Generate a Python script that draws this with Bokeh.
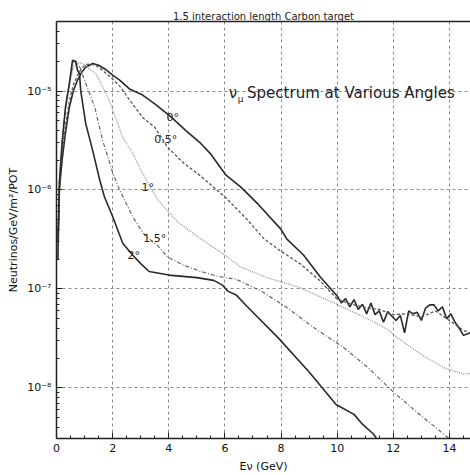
from bokeh.plotting import figure
from bokeh.models import Label, FixedTicker, CustomJSTickFormatter, LinearAxis, Range1d, Title
from bokeh.embed import file_html
from bokeh.resources import INLINE

# ---------------- data ----------------
angle_names = ["0°", "0.5°", "1°", "1.5°", "2°"]

e_0deg = [0.05, 0.10, 0.20, 0.32, 0.46, 0.60, 0.75, 0.90, 1.04, 1.29, 1.50, 1.75, 2.00, 2.25,
          2.60, 3.07, 3.50, 4.07, 4.60, 5.14, 5.50, 6.04, 6.57, 7.20, 8.00, 8.20, 8.80, 9.40,
          10.00, 10.15, 10.30, 10.45, 10.60, 10.75, 10.90, 11.05, 11.20, 11.35, 11.50, 11.65,
          11.80, 11.95, 12.10, 12.25, 12.40, 12.55, 12.70, 12.85, 13.00, 13.15, 13.30, 13.45,
          13.60, 13.75, 13.90, 14.05, 14.20, 14.35, 14.50, 14.75]
flux_0deg = [2e-7, 1.0e-6, 2.0e-6, 3.8e-6, 6.9e-6, 1.0e-5, 1.29e-5, 1.55e-5, 1.74e-5, 1.9e-5,
             1.82e-5, 1.65e-5, 1.45e-5, 1.29e-5, 1.05e-5, 9.1e-6, 7.4e-6, 5.5e-6, 4.0e-6,
             2.95e-6, 2.3e-6, 1.41e-6, 1.07e-6, 7.1e-7, 4.0e-7, 3.2e-7, 2.2e-7, 1.32e-7,
             8.5e-8, 7.2e-8, 8.0e-8, 6.6e-8, 7.8e-8, 6.2e-8, 7.0e-8, 5.6e-8, 7.2e-8, 5.5e-8,
             6.0e-8, 4.6e-8, 5.9e-8, 5.3e-8, 4.8e-8, 5.4e-8, 3.6e-8, 6.0e-8, 5.6e-8, 5.8e-8,
             4.8e-8, 6.4e-8, 6.9e-8, 6.9e-8, 6.0e-8, 6.6e-8, 5.0e-8, 5.6e-8, 4.6e-8, 4.0e-8,
             3.4e-8, 3.6e-8]

e_05deg = [0.05, 0.10, 0.20, 0.32, 0.46, 0.60, 0.75, 0.90, 1.04, 1.20, 1.45, 1.64, 2.00, 2.25,
           2.71, 3.07, 3.50, 3.96, 4.50, 5.14, 6.04, 6.80, 7.40, 8.00, 8.70, 9.40, 10.00,
           10.50, 11.00, 11.50, 12.00, 12.50, 13.00, 13.50, 14.00, 14.50, 14.75]
flux_05deg = [2e-7, 1.2e-6, 2.4e-6, 4.5e-6, 8.0e-6, 1.15e-5, 1.45e-5, 1.7e-5, 1.85e-5, 1.88e-5,
              1.78e-5, 1.62e-5, 1.32e-5, 1.12e-5, 7.4e-6, 5.4e-6, 4.3e-6, 2.7e-6, 1.9e-6,
              1.38e-6, 8.3e-7, 5.0e-7, 3.2e-7, 2.4e-7, 1.78e-7, 1.2e-7, 7.9e-8, 7.0e-8, 6.5e-8,
              6.2e-8, 5.5e-8, 5.6e-8, 5.2e-8, 6.0e-8, 4.8e-8, 3.8e-8, 3.6e-8]

e_1deg = [0.05, 0.11, 0.20, 0.32, 0.46, 0.60, 0.80, 1.00, 1.20, 1.40, 1.65, 1.90, 2.36, 2.70,
          3.00, 3.30, 3.60, 4.30, 5.14, 5.90, 6.57, 7.50, 8.60, 9.70, 10.60, 11.20, 11.80,
          12.10, 12.60, 13.20, 13.80, 14.50, 14.75]
flux_1deg = [3e-7, 1.3e-6, 3.0e-6, 6.5e-6, 1.15e-5, 1.75e-5, 1.95e-5, 1.85e-5, 1.65e-5, 1.5e-5,
             1.1e-5, 7.8e-6, 3.4e-6, 2.4e-6, 1.6e-6, 1.12e-6, 8.0e-7, 4.8e-7, 3.2e-7, 2.3e-7,
             1.66e-7, 1.3e-7, 1.05e-7, 7.6e-8, 5.8e-8, 4.8e-8, 3.9e-8, 3.3e-8, 2.6e-8, 2.0e-8,
             1.6e-8, 1.38e-8, 1.4e-8]

e_15deg = [0.05, 0.11, 0.20, 0.32, 0.46, 0.60, 0.70, 0.85, 1.04, 1.36, 1.64, 2.00, 2.25, 2.71,
           3.00, 3.18, 3.60, 3.96, 4.50, 5.14, 5.70, 6.40, 7.30, 8.20, 9.20, 10.20, 11.10,
           12.00, 12.90, 13.80, 14.10]
flux_15deg = [3e-7, 1.3e-6, 3.0e-6, 6.8e-6, 1.2e-5, 1.95e-5, 2.0e-5, 1.7e-5, 1.2e-5, 6.9e-6,
              3.2e-6, 1.5e-6, 1.0e-6, 5.4e-7, 4.0e-7, 3.4e-7, 2.75e-7, 2.1e-7, 1.75e-7, 1.5e-7,
              1.35e-7, 1.25e-7, 9.5e-8, 6.5e-8, 4.0e-8, 2.6e-8, 1.6e-8, 9.1e-9, 5.5e-9, 3.4e-9,
              2.9e-9]

e_2deg = [0.05, 0.11, 0.20, 0.32, 0.46, 0.57, 0.68, 0.75, 0.82, 0.86, 1.04, 1.29, 1.54, 1.71,
          2.00, 2.36, 2.71, 3.00, 3.30, 4.00, 5.00, 5.60, 5.90, 6.10, 6.40, 6.80, 7.90, 9.00,
          9.96, 10.60, 10.90, 11.30, 11.50]
flux_2deg = [3e-7, 1.26e-6, 3.0e-6, 6.9e-6, 1.2e-5, 2.04e-5, 2.0e-5, 1.62e-5, 1.5e-5, 1.02e-5,
             4.7e-6, 2.5e-6, 1.26e-6, 8.5e-7, 5.4e-7, 2.9e-7, 2.2e-7, 1.8e-7, 1.5e-7, 1.38e-7,
             1.3e-7, 1.22e-7, 1.1e-7, 9.5e-8, 8.7e-8, 6.6e-8, 3.2e-8, 1.45e-8, 6.8e-9, 5.4e-9,
             4.3e-9, 3.4e-9, 2.8e-9]

x_ticks = [0, 2, 4, 6, 8, 10, 12, 14]
y_ticks = [1e-8, 1e-7, 1e-6, 1e-5]

# ---------------- figure ----------------
FONT = "DejaVu Sans"
p = figure(width=470, height=475, x_range=Range1d(0, 14.75), y_range=Range1d(3.08e-9, 5.04e-5),
           y_axis_type="log", output_backend="svg", toolbar_location=None,
           min_border_left=56, min_border_right=0, min_border_top=21, min_border_bottom=36)
p.outline_line_color = None

x_minor = [t / 2 for t in range(0, 30)]
y_minor = [k * 10.0 ** e for e in range(-9, -4) for k in range(2, 10)]

for ax in p.xaxis:
    ax.ticker = FixedTicker(ticks=x_ticks, minor_ticks=x_minor)
    ax.axis_label = "Eν (GeV)"
    ax.axis_label_standoff = 5
for ax in p.yaxis:
    ax.ticker = FixedTicker(ticks=y_ticks, minor_ticks=y_minor)
    ax.formatter = CustomJSTickFormatter(code="""
        const e = Math.round(Math.log10(tick));
        const sup = {"-":"\u207b","0":"\u2070","1":"\u00b9","2":"\u00b2","3":"\u00b3",
                     "4":"\u2074","5":"\u2075","6":"\u2076","7":"\u2077","8":"\u2078","9":"\u2079"};
        return "10" + String(e).split("").map(c => sup[c]).join("");
    """)
    ax.axis_label = "Neutrinos/GeV/m²/POT"
    ax.axis_label_standoff = 4

for ax in list(p.xaxis) + list(p.yaxis):
    ax.axis_label_text_font = FONT
    ax.axis_label_text_font_size = "11px"
    ax.axis_label_text_font_style = "normal"
    ax.axis_label_text_color = "#111111"
    ax.axis_line_width = 1.5
    ax.axis_line_color = "#222222"
    ax.major_tick_in = 6
    ax.major_tick_out = 0
    ax.minor_tick_in = 3
    ax.minor_tick_out = 0
    ax.major_tick_line_color = "#222222"
    ax.minor_tick_line_color = "#222222"
    ax.major_label_text_font = FONT
    ax.major_label_text_font_size = "11px"
    ax.major_label_text_color = "#111111"
    ax.major_label_standoff = 5

top_axis = LinearAxis(ticker=FixedTicker(ticks=[]), major_label_text_font_size="0px",
                      major_tick_in=0, major_tick_out=0, minor_tick_in=0, minor_tick_out=0,
                      axis_line_width=1.5, axis_line_color="#222222")
p.add_layout(top_axis, "above")
p.add_layout(Title(text="1.5 interaction length Carbon target", align="center",
                   text_font=FONT, text_font_size="10px", text_font_style="normal",
                   text_color="#222222", standoff=0, offset=0), "above")

p.xgrid.ticker = FixedTicker(ticks=x_ticks)
p.ygrid.ticker = FixedTicker(ticks=y_ticks)
for g in (p.xgrid, p.ygrid):
    g.grid_line_color = "#8a8a8a"
    g.grid_line_dash = "3 3"
    g.grid_line_width = 1

# ---------------- curves ----------------
p.line(e_0deg, flux_0deg, line_color="#2a2a2a", line_width=1.6)
p.line(e_05deg, flux_05deg, line_color="#555555", line_width=1.3, line_dash="3 2")
p.line(e_1deg, flux_1deg, line_color="#9a9a9a", line_width=1.3, line_dash="1 1")
p.line(e_15deg, flux_15deg, line_color="#666666", line_width=1.2, line_dash="4 2 1 2")
p.line(e_2deg, flux_2deg, line_color="#2a2a2a", line_width=1.6)

# curve labels
label_x = [4.14, 3.89, 3.25, 3.5, 2.75]
label_y = [5.4e-6, 3.25e-6, 1.07e-6, 3.2e-7, 2.2e-7]
for name, lx, ly in zip(angle_names, label_x, label_y):
    p.add_layout(Label(x=lx, y=ly, text=name, text_font=FONT, text_font_size="11px",
                       text_align="center", text_baseline="middle", text_color="#222222"))

# in-plot heading
p.add_layout(Label(x=6.14, y=9.5e-6, text="ν", text_font=FONT, text_font_size="15px",
                   text_baseline="alphabetic", text_color="#222222"))
p.add_layout(Label(x=6.46, y=8.4e-6, text="μ", text_font=FONT, text_font_size="9px",
                   text_baseline="alphabetic", text_color="#222222"))
p.add_layout(Label(x=6.79, y=9.5e-6, text="Spectrum at Various Angles", text_font=FONT,
                   text_font_size="15px", text_baseline="alphabetic", text_color="#222222"))

open("out.html", "w").write(file_html(p, INLINE))
